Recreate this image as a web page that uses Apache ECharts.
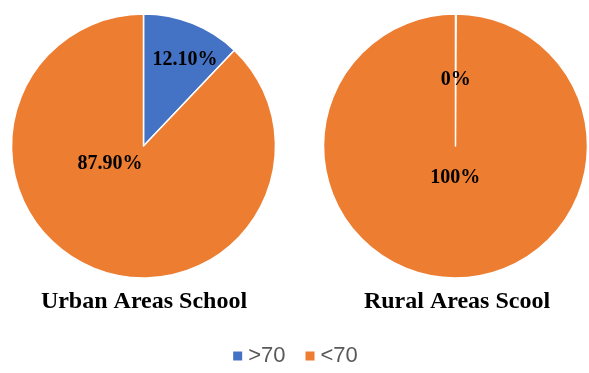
<!DOCTYPE html>
<html><head><meta charset="utf-8">
<script src="https://cdn.jsdelivr.net/npm/echarts@6/dist/echarts.min.js"></script>
<style>html,body{margin:0;padding:0;background:#fff}#c{width:589px;height:373px}</style>
</head><body><div id="c"></div>
<script>
const categories = ['>70', '<70'];
const urbanValues = [12.10, 87.90];
const ruralValues = [0, 100];
const urbanLabels = ['12.10%', '87.90%'];
const ruralLabels = ['0%', '100%'];
const chartTitles = ['Urban Areas School', 'Rural Areas Scool'];
const colors = ['#4472C4', '#ED7D31'];

const labelShift = [
  [[16, -22], [-8, -46]],
  [[0, 3], [0, -37]]
];
const borderWidths = [[1.5, 1.5], [2.5, 1.5]];

function mk(vals, labs, bw) {
  return vals.map((v, i) => ({ name: categories[i], value: v, label: { formatter: labs[i] },
    itemStyle: { borderWidth: bw[i] } }));
}
const serif = '"Liberation Serif", "Times New Roman", serif';
const chart = echarts.init(document.getElementById('c'), null, { renderer: 'canvas' });
chart.setOption({
  animation: false,
  color: colors,
  title: [
    { text: chartTitles[0], left: 144, top: 290, textAlign: 'center', padding: 0,
      textStyle: { fontFamily: serif, fontWeight: 'bold', fontSize: 24, color: '#000' } },
    { text: chartTitles[1], left: 457, top: 290, textAlign: 'center', padding: 0,
      textStyle: { fontFamily: serif, fontWeight: 'bold', fontSize: 24, color: '#000' } }
  ],
  legend: {
    data: categories, left: 'center', top: 345, icon: 'rect', itemWidth: 11, itemHeight: 11,
    itemGap: 18, padding: 0,
    textStyle: { fontFamily: '"Liberation Sans", Arial, sans-serif', fontSize: 22, color: '#595959' }
  },
  series: [
    { type: 'pie', center: [143.5, 146], radius: 132, startAngle: 90, clockwise: true,
      data: mk(urbanValues, urbanLabels, borderWidths[0]),
      itemStyle: { borderColor: '#fff' },
      label: { position: 'inside', fontFamily: serif, fontWeight: 'bold', fontSize: 20, color: '#000' },
      labelLine: { show: false },
      labelLayout: p => ({ dx: labelShift[0][p.dataIndex][0], dy: labelShift[0][p.dataIndex][1] })
    },
    { type: 'pie', center: [455.5, 146], radius: 132, startAngle: 90, clockwise: true, minAngle: 0.3,
      data: mk(ruralValues, ruralLabels, borderWidths[1]),
      itemStyle: { borderColor: '#fff' },
      label: { position: 'inside', fontFamily: serif, fontWeight: 'bold', fontSize: 20, color: '#000' },
      labelLine: { show: false },
      labelLayout: p => ({ dx: labelShift[1][p.dataIndex][0], dy: labelShift[1][p.dataIndex][1] })
    }
  ]
});
</script></body></html>
